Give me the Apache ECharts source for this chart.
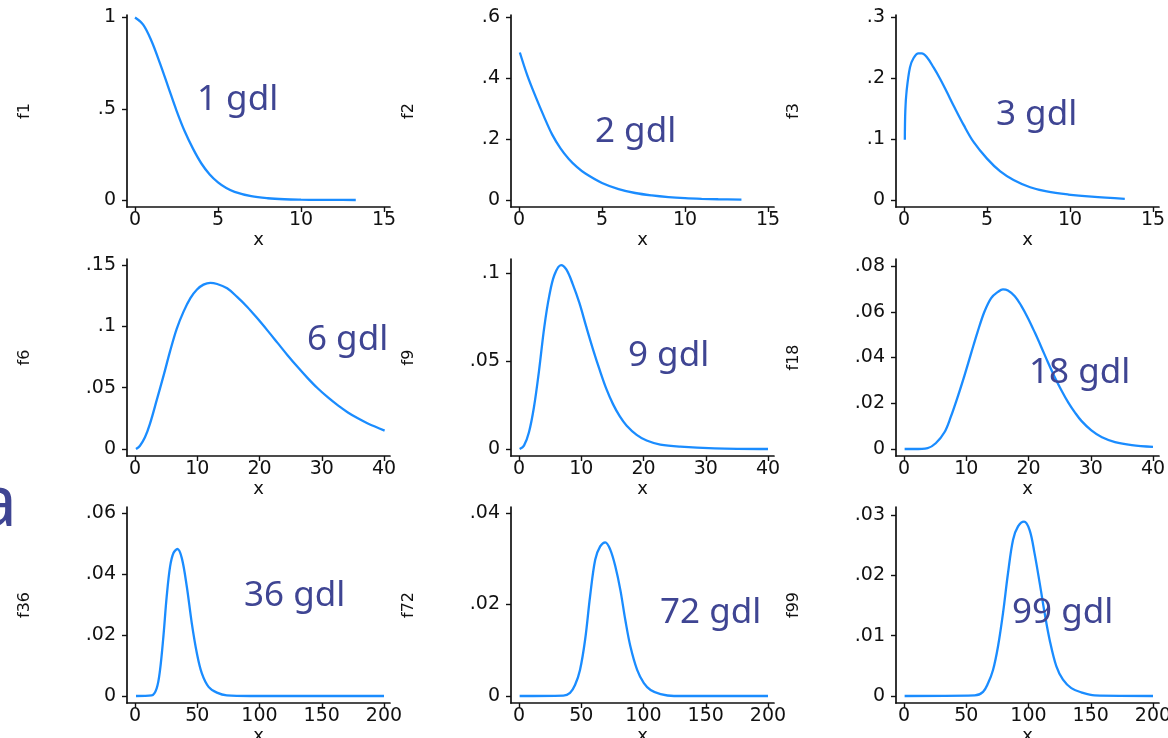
<!DOCTYPE html>
<html>
<head>
<meta charset="utf-8">
<script src="https://cdn.jsdelivr.net/npm/echarts@6/dist/echarts.min.js"></script>
<style>
html,body{margin:0;padding:0;background:#fff;}
#chart{width:1168px;height:738px;}
</style>
</head>
<body>
<div id="chart"></div>
<script>
// ---- data ----
const x1 = [0, 0.5, 1, 1.5, 2, 2.5, 3, 3.5, 4, 4.5, 5, 5.5, 6, 7, 8, 9, 10, 11, 12, 13.3];
const f1 = [1.0, 0.96, 0.87, 0.75, 0.62, 0.49, 0.375, 0.28, 0.20, 0.14, 0.097, 0.066, 0.045, 0.021, 0.0095, 0.004, 0.0017, 0.0007, 0.0003, 0];

const x2 = [0.05, 0.5, 1, 1.5, 2, 2.5, 3, 3.5, 4, 5, 6, 7, 8, 9, 10, 11, 12, 13.4];
const f2 = [0.485, 0.41, 0.34, 0.275, 0.215, 0.17, 0.135, 0.108, 0.087, 0.056, 0.036, 0.023, 0.015, 0.0095, 0.006, 0.0038, 0.0024, 0.0012];

const x3 = [0.05, 0.08, 0.16, 0.36, 0.57, 0.87, 1.07, 1.37, 1.78, 2.18, 2.59, 2.99, 3.6, 4.2, 5.0, 5.8, 6.6, 7.6, 8.6, 9.9, 11.3, 13.3];
const f3 = [0.099, 0.147, 0.18, 0.218, 0.233, 0.241, 0.241, 0.235, 0.218, 0.199, 0.177, 0.155, 0.123, 0.095, 0.068, 0.047, 0.033, 0.021, 0.014, 0.009, 0.0055, 0.002];

const x6 = [0.16, 0.8, 1.6, 2.4, 3.5, 4.6, 5.65, 6.7, 7.8, 8.9, 9.96, 11.0, 12.1, 13.2, 14.8, 16.4, 18.0, 19.65, 21.3, 22.9, 24.5, 26.1, 27.7, 29.3, 31.0, 32.6, 34.2, 35.8, 37.4, 40.1];
const f6 = [0, 0.0027, 0.0095, 0.0205, 0.040, 0.060, 0.080, 0.098, 0.112, 0.123, 0.130, 0.134, 0.1355, 0.1345, 0.131, 0.124, 0.116, 0.1065, 0.0965, 0.0865, 0.0765, 0.067, 0.058, 0.0497, 0.042, 0.0355, 0.0298, 0.025, 0.0208, 0.015];

const x9 = [0.1, 0.8, 1.6, 2.4, 3.2, 4.05, 4.86, 5.7, 6.76, 7.6, 8.6, 9.7, 10.8, 11.9, 13.0, 14.05, 15.1, 16.2, 17.3, 18.9, 20.5, 22.7, 25.9, 31.4, 40];
const f9 = [0, 0.0019, 0.0095, 0.0237, 0.044, 0.069, 0.087, 0.099, 0.1045, 0.102, 0.094, 0.083, 0.0695, 0.0565, 0.0445, 0.034, 0.0255, 0.0185, 0.0132, 0.008, 0.0048, 0.0025, 0.0013, 0.0004, 0];

const x18 = [0.1, 1.6, 3.8, 5.1, 6.5, 7.5, 8.6, 9.7, 10.8, 11.8, 12.9, 14.0, 15.1, 15.9, 16.7, 17.8, 18.8, 19.9, 21.0, 22.1, 23.1, 24.2, 25.3, 26.4, 27.5, 28.5, 30.1, 31.8, 33.9, 36.6, 40];
const f18 = [0, 0, 0.0004, 0.0025, 0.0073, 0.0139, 0.0226, 0.032, 0.042, 0.051, 0.0599, 0.066, 0.0687, 0.0698, 0.0693, 0.0668, 0.0628, 0.0573, 0.051, 0.0443, 0.038, 0.0315, 0.0256, 0.0203, 0.0158, 0.0123, 0.0081, 0.0051, 0.003, 0.0017, 0.0009];

const x36 = [0.8, 13.4, 17.4, 20.1, 22.8, 25.5, 28.2, 30.9, 34.1, 37.6, 41.6, 45.6, 49.7, 53.7, 59.1, 65.8, 73.8, 92.6, 200];
const f36 = [0, 0.0002, 0.0025, 0.0085, 0.0195, 0.0328, 0.0425, 0.0469, 0.0482, 0.0452, 0.0359, 0.0239, 0.014, 0.0074, 0.003, 0.0011, 0.0002, 0, 0];

const x72 = [0.5, 35.6, 41, 45, 49, 53.1, 57.1, 61.2, 65.2, 69.3, 73.3, 77.4, 81.4, 85.4, 89.5, 94.9, 100.3, 105.7, 113.7, 124.5, 200];
const f72 = [0, 0.0001, 0.0007, 0.0024, 0.0057, 0.0123, 0.0218, 0.0298, 0.0327, 0.0336, 0.032, 0.0283, 0.0232, 0.0166, 0.0108, 0.0057, 0.0028, 0.0013, 0.0004, 0, 0];

const x99 = [0.5, 56.8, 63.5, 67.5, 71.5, 75.5, 79.5, 83.5, 87.6, 91.6, 96.4, 100.9, 104.9, 109, 113, 117, 122.4, 127.7, 134.4, 142.4, 153.1, 200];
const f99 = [0, 0.0001, 0.0007, 0.0021, 0.0043, 0.0082, 0.0137, 0.0203, 0.0259, 0.0281, 0.0289, 0.0275, 0.0236, 0.0187, 0.0137, 0.0093, 0.0049, 0.0027, 0.0013, 0.0006, 0.0001, 0];

// tick labels
const xTicks15 = [0, 5, 10, 15];
const xTicks40 = [0, 10, 20, 30, 40];
const xTicks200 = [0, 50, 100, 150, 200];
const yTicks1 = [0, 0.5, 1];
const yTicks2 = [0, 0.2, 0.4, 0.6];
const yTicks3 = [0, 0.1, 0.2, 0.3];
const yTicks6 = [0, 0.05, 0.1, 0.15];
const yTicks9 = [0, 0.05, 0.1];
const yTicks18 = [0, 0.02, 0.04, 0.06, 0.08];
const yTicks36 = [0, 0.02, 0.04, 0.06];
const yTicks72 = [0, 0.02, 0.04];
const yTicks99 = [0, 0.01, 0.02, 0.03];

const seriesNames = ['f1', 'f2', 'f3', 'f6', 'f9', 'f18', 'f36', 'f72', 'f99'];
const labels = ['1 gdl', '2 gdl', '3 gdl', '6 gdl', '9 gdl', '18 gdl', '36 gdl', '72 gdl', '99 gdl'];

// ---- layout ----
const colLeft = [127, 511, 896];
const rowTop = [15, 259, 507];
const rowBottom = [207, 456, 703];
const gridW = 263;
const topTickPx = [17.5, 17.5, 17.5, 265, 273, 266, 513, 513, 515];
const labelPos = [[197,113],[595,145],[996,128],[307,353],[628,369],[1029,386],[244,609],[660,626],[1012,626]];

const xsAll = [x1, x2, x3, x6, x9, x18, x36, x72, x99];
const ysAll = [f1, f2, f3, f6, f9, f18, f36, f72, f99];
const xTickAll = [xTicks15, xTicks15, xTicks15, xTicks40, xTicks40, xTicks40, xTicks200, xTicks200, xTicks200];
const yTickAll = [yTicks1, yTicks2, yTicks3, yTicks6, yTicks9, yTicks18, yTicks36, yTicks72, yTicks99];

const AX = '#111';
const TXT = '#111';
const LINE = '#1a8cff';
const ANNO = '#3f4593';
const FONT = 'DejaVu Sans';

const grids = [], xAxes = [], yAxes = [], series = [], graphics = [];

function fmtY(v) {
  if (v === 0) return '0';
  return String(+v.toFixed(4)).replace(/^0\./, '.');
}

for (let i = 0; i < 9; i++) {
  const r = Math.floor(i / 3), c = i % 3;
  const left = colLeft[c], top = rowTop[r], bottom = rowBottom[r];
  grids.push({left: left, top: top, width: gridW, height: bottom - top, containLabel: false, outerBoundsMode: 'none'});
  const xt = xTickAll[i];
  const xr = xt[xt.length - 1];
  const xppu = 249 / xr;
  const yt = yTickAll[i];
  const ytop = yt[yt.length - 1];
  const zeroPx = bottom - 7;
  const yppu = (zeroPx - topTickPx[i]) / ytop;
  xAxes.push({
    type: 'value', gridIndex: i,
    min: -8 / xppu, max: xr + 6 / xppu,
    name: 'x', nameLocation: 'middle', nameGap: 20,
    nameTextStyle: {fontFamily: FONT, fontSize: 18, color: TXT},
    axisLine: {show: true, onZero: false, lineStyle: {color: AX, width: 1.7}},
    axisTick: {show: true, inside: false, length: 5, customValues: xt, lineStyle: {color: AX, width: 1.4}},
    axisLabel: {show: true, customValues: xt, margin: 4, fontFamily: FONT, fontSize: 19, color: TXT, formatter: v => String(v)},
    splitLine: {show: false}
  });
  yAxes.push({
    type: 'value', gridIndex: i,
    min: -7 / yppu, max: (zeroPx - top) / yppu,
    name: seriesNames[i], nameLocation: 'middle', nameGap: 94,
    nameTextStyle: {fontFamily: FONT, fontSize: 16, color: TXT},
    axisLine: {show: true, onZero: false, lineStyle: {color: AX, width: 1.7}},
    axisTick: {show: true, inside: false, length: 5, customValues: yt, lineStyle: {color: AX, width: 1.4}},
    axisLabel: {show: true, customValues: yt, margin: 11, fontFamily: FONT, fontSize: 19, color: TXT, formatter: fmtY},
    splitLine: {show: false}
  });
  series.push({
    type: 'line', name: seriesNames[i], xAxisIndex: i, yAxisIndex: i,
    data: xsAll[i].map((x, k) => [x, ysAll[i][k]]),
    showSymbol: false, smooth: 0.35,
    lineStyle: {color: LINE, width: 2.3}, itemStyle: {color: LINE},
    animation: false, silent: true
  });
  graphics.push({
    type: 'text', x: labelPos[i][0], y: labelPos[i][1] - 13,
    style: {text: labels[i], fill: ANNO, font: '35px "Noto Sans"', textAlign: 'left', textVerticalAlign: 'middle', verticalAlign: 'middle'},
    z: 10
  });
}
graphics.push({
  type: 'text', x: 17, y: 506,
  style: {text: 'a', fill: ANNO, font: '71px "Noto Sans"', textAlign: 'right', textVerticalAlign: 'middle', verticalAlign: 'middle'},
  z: 10
});

const chart = echarts.init(document.getElementById('chart'), null, {renderer: 'canvas'});
chart.setOption({
  animation: false,
  backgroundColor: '#fff',
  grid: grids, xAxis: xAxes, yAxis: yAxes, series: series,
  graphic: graphics
});
</script>
</body>
</html>
